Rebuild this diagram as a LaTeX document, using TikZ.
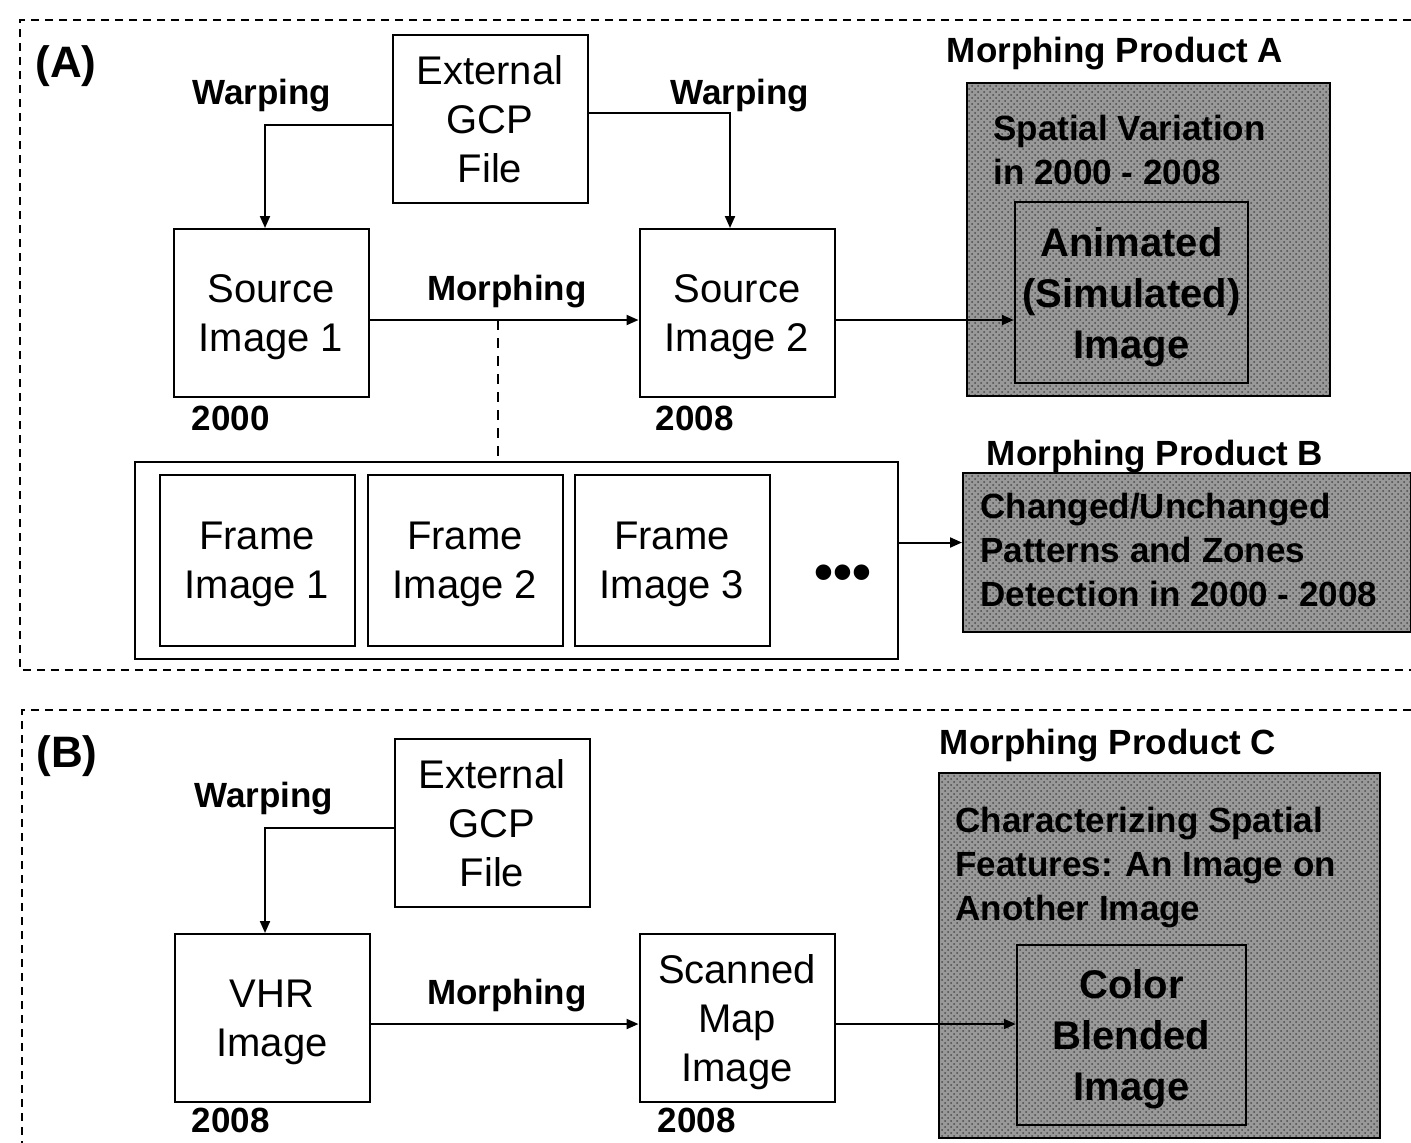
\documentclass[tikz,border=0pt]{standalone}
\usepackage{fontspec}
\setmainfont{Liberation Sans}
\usetikzlibrary{arrows.meta, patterns, positioning}

\begin{document}
\begin{tikzpicture}[x=0.5pt, y=-0.5pt,
    imgbox/.style={draw, line width=1pt, minimum width=97.5pt, minimum height=84pt, text depth=0pt,
                   align=center, inner sep=0pt, font=\fontsize{20}{24.5}\selectfont},
    lbl/.style={inner sep=0pt, text depth=0pt, font=\fontsize{17.5}{22}\selectfont\bfseries},
    prodbox/.style={draw, line width=1pt, preaction={fill=black!40},
                    pattern=crosshatch dots, pattern color=black!70},
    innerbox/.style={draw, line width=1.2pt, align=center, inner sep=0pt, text depth=0pt,
                     font=\fontsize{20}{25.5}\selectfont\bfseries},
    flow/.style={line width=1pt, -{Triangle[length=6pt, width=5pt]}},
    panel/.style={line width=0.9pt, dash pattern=on 4pt off 3pt}]
  \useasboundingbox (0,0) rectangle (1411,1142);

  % Panel (A)
  \draw[panel] (1411,20) -| (20,670) -- (1411,670);
  \node (taga) [lbl, font=\fontsize{22}{26}\selectfont\bfseries] at (66,62) {(A)};
  \node (gcpa) [imgbox] at (490,119) {External\\GCP\\File};
  \node (srca) [imgbox] at (271,313) {Source\\Image 1};
  \node (srcb) [imgbox] at (737,313) {Source\\Image 2};
  \node (warpa) [lbl] at (262,92) {Warping};
  \node (warpa2) [lbl] at (740,92) {Warping};
  \node (morpha) [lbl] at (507,288) {Morphing};
  \node (yra) [lbl, below right=4pt and 9.5pt of srca.south west] {2000};
  \node (yrb) [lbl, below right=4pt and 8.5pt of srcb.south west] {2008};
  \draw[flow] ([yshift=-3pt]gcpa.west) -| ([xshift=-3pt]srca.north);
  \draw[flow] ([yshift=3pt]gcpa.east) -| ([xshift=-3.5pt]srcb.north);
  \draw[flow] ([yshift=-3.5pt]srca.east) -- ([yshift=-3.5pt]srcb.west);

  % Frame images
  \node (frames) [draw, line width=1pt, minimum width=381.5pt, minimum height=98.5pt] at (516.5,560.5) {};
  \node (fra1) [imgbox, minimum height=85.5pt] at (257,560) {Frame\\Image 1};
  \node (fra2) [imgbox, minimum height=85.5pt] at (465,560) {Frame\\Image 2};
  \node (fra3) [imgbox, minimum height=85.5pt] at (672,560) {Frame\\Image 3};
  \node (more) [inner sep=0pt, font=\fontsize{27}{27}\selectfont\bfseries] at (843,578) {•••};
  \coordinate (tap) at (498,320);
  \draw[line width=1pt, dash pattern=on 5pt off 4pt] (tap) -- (tap |- frames.north);

  % Morphing Product A
  \node (proda) [prodbox, minimum width=181.5pt, minimum height=156.5pt] at (1148.5,239.5) {};
  \node (proda lbl) [lbl] at (1115,50) {Morphing Product A};
  \node (proda txt) [lbl, anchor=west, align=left] at (993,150) {Spatial Variation\\in 2000 - 2008};
  \node (innera) [innerbox, minimum width=116.5pt, minimum height=90.5pt] at (1131.5,292.5) {Animated\\(Simulated)\\Image};
  \draw[flow] ([yshift=-3.5pt]srcb.east) -- ([yshift=-3.5pt]srcb.east -| innera.west);

  % Morphing Product B
  \node (prodb) [prodbox, minimum width=224pt, minimum height=79.5pt] at (1187,552.5) {};
  \node (prodb lbl) [lbl] at (1155,453) {Morphing Product B};
  \node (prodb txt) [lbl, anchor=west, align=left] at (980,550) {Changed/Unchanged\\Patterns and Zones\\Detection in 2000 - 2008};
  \draw[flow] ([yshift=9pt]frames.east) -- ([yshift=9pt]frames.east -| prodb.west);

  % Panel (B)
  \draw[panel] (1411,710) -| (22,1150);
  \node (tagb) [lbl, font=\fontsize{22}{26}\selectfont\bfseries] at (67,752) {(B)};
  \node (gcpb) [imgbox] at (492,823) {External\\GCP\\File};
  \node (vhr) [imgbox] at (272,1018) {VHR\\Image};
  \node (scan) [imgbox] at (737,1018) {Scanned\\Map\\Image};
  \node (warpb) [lbl] at (264,795) {Warping};
  \node (morphb) [lbl] at (507,992) {Morphing};
  \node (yrc) [lbl, below right=2.5pt and 9pt of vhr.south west] {2008};
  \node (yrd) [lbl, below right=2.5pt and 9.5pt of scan.south west] {2008};
  \draw[flow] ([yshift=-2.5pt]gcpb.west) -| ([xshift=-3.5pt]vhr.north);
  \draw[flow] ([yshift=-3pt]vhr.east) -- ([yshift=-3pt]scan.west);

  % Morphing Product C
  \node (prodc) [prodbox, minimum width=220.5pt, minimum height=182.5pt] at (1159.5,955.5) {};
  \node (prodc lbl) [lbl] at (1108,742) {Morphing Product C};
  \node (prodc txt) [lbl, anchor=west, align=left] at (955,864) {Characterizing Spatial\\Features: An Image on\\Another Image};
  \node (innerc) [innerbox, minimum width=114.5pt, minimum height=90pt] at (1131.5,1035) {Color\\Blended\\Image};
  \draw[flow] ([yshift=-3pt]scan.east) -- ([yshift=-3pt]scan.east -| innerc.west);
\end{tikzpicture}
\end{document}
